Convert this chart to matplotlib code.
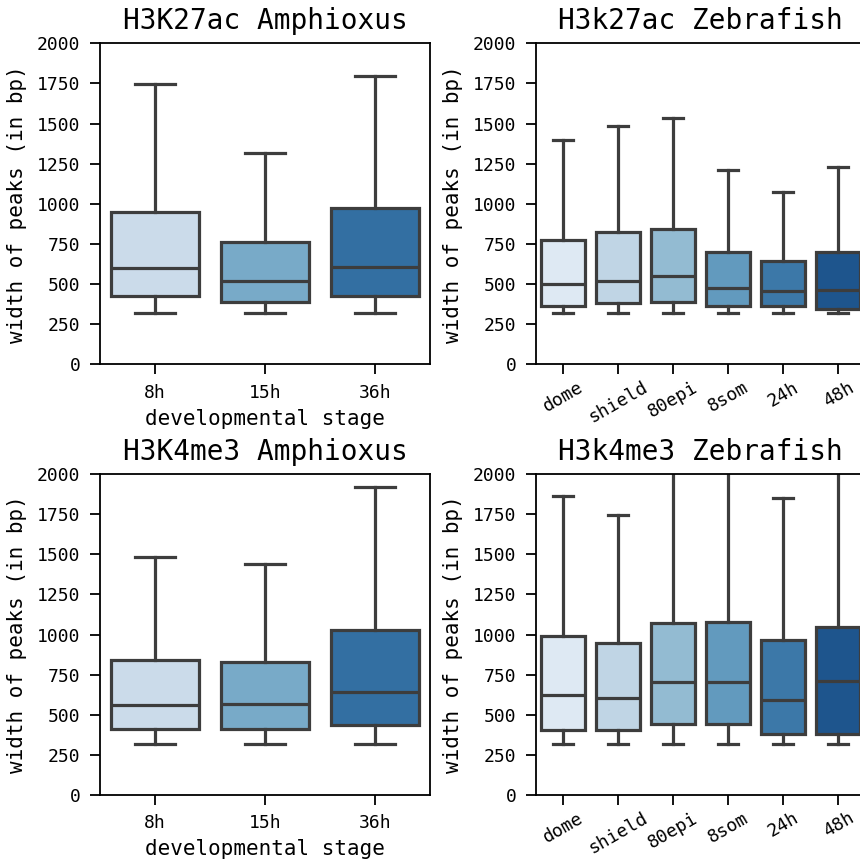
import matplotlib
matplotlib.use("Agg")
import matplotlib.pyplot as plt
import seaborn as sns

plt.rcParams['font.family'] = ['DejaVu Sans Mono']

amph_stages = ["8h", "15h", "36h"]
zf_stages = ["dome", "shield", "80epi", "8som", "24h", "48h"]

# H3K27ac Amphioxus: low whisker, Q1, median, Q3, high whisker
k27_amph_lo = [320, 320, 320]
k27_amph_q1 = [426, 390, 428]
k27_amph_med = [601, 519, 605]
k27_amph_q3 = [950, 760, 972]
k27_amph_hi = [1745, 1317, 1796]

# H3k27ac Zebrafish
k27_zf_lo = [320, 320, 320, 320, 320, 320]
k27_zf_q1 = [365, 382, 386, 365, 365, 347]
k27_zf_med = [502, 519, 548, 477, 457, 465]
k27_zf_q3 = [777, 822, 845, 702, 646, 702]
k27_zf_hi = [1398, 1485, 1532, 1211, 1071, 1229]

# H3K4me3 Amphioxus
k4_amph_lo = [320, 320, 320]
k4_amph_q1 = [411, 411, 436]
k4_amph_med = [561, 565, 640]
k4_amph_q3 = [841, 827, 1028]
k4_amph_hi = [1481, 1439, 1917]

# H3k4me3 Zebrafish
k4_zf_lo = [320, 320, 320, 320, 320, 320]
k4_zf_q1 = [407, 407, 444, 440, 382, 378]
k4_zf_med = [623, 602, 702, 702, 590, 710]
k4_zf_q3 = [989, 947, 1072, 1076, 968, 1047]
k4_zf_hi = [1861, 1747, 2300, 2300, 1848, 2300]

line_col = "#3d3d3d"

def make_stats(lo, q1, med, q3, hi):
    return [dict(whislo=a, q1=b, med=c, q3=d, whishi=e, fliers=[])
            for a, b, c, d, e in zip(lo, q1, med, q3, hi)]

def draw(ax, title, labels, stats, rot, xlabel):
    n = len(labels)
    cols = sns.color_palette("Blues", n, desat=0.75)
    lw = 2.3
    bp = ax.bxp(stats, positions=range(n), widths=0.8, patch_artist=True,
                showfliers=False, capwidths=0.36,
                boxprops=dict(linewidth=lw, edgecolor=line_col),
                whiskerprops=dict(linewidth=lw, color=line_col),
                capprops=dict(linewidth=lw, color=line_col),
                medianprops=dict(linewidth=lw, color=line_col))
    for patch, c in zip(bp['boxes'], cols):
        patch.set_facecolor(c)
    ax.set_xlim(-0.5, n - 0.5)
    ax.set_ylim(0, 2000)
    ax.set_yticks([0, 250, 500, 750, 1000, 1250, 1500, 1750, 2000])
    ax.set_xticks(range(n))
    if rot:
        ax.set_xticklabels(labels, rotation=30, ha='center')
    else:
        ax.set_xticklabels(labels)
    ax.set_title(title, fontsize=20, pad=10)
    ax.set_ylabel("width of peaks (in bp)", fontsize=15, labelpad=7)
    if xlabel:
        ax.set_xlabel("developmental stage", fontsize=15, labelpad=5)
    ax.tick_params(labelsize=13, length=7, width=1.3, pad=7)
    if rot:
        ax.tick_params(axis='x', pad=3)
    for s in ax.spines.values():
        s.set_linewidth(1.3)

fig = plt.figure(figsize=(8.6, 8.6), dpi=100)
W = 860.0
def rect(x0, x1, ytop, ybot):
    return [x0 / W, (W - ybot) / W, (x1 - x0) / W, (ybot - ytop) / W]

ax1 = fig.add_axes(rect(100, 430, 43.3, 364.3))
ax2 = fig.add_axes(rect(535.7, 865.7, 43.3, 364.3))
ax3 = fig.add_axes(rect(100, 430, 474, 795))
ax4 = fig.add_axes(rect(535.7, 865.7, 474, 795))

draw(ax1, "H3K27ac Amphioxus", amph_stages,
     make_stats(k27_amph_lo, k27_amph_q1, k27_amph_med, k27_amph_q3, k27_amph_hi), False, True)
draw(ax2, "H3k27ac Zebrafish", zf_stages,
     make_stats(k27_zf_lo, k27_zf_q1, k27_zf_med, k27_zf_q3, k27_zf_hi), True, False)
draw(ax3, "H3K4me3 Amphioxus", amph_stages,
     make_stats(k4_amph_lo, k4_amph_q1, k4_amph_med, k4_amph_q3, k4_amph_hi), False, True)
draw(ax4, "H3k4me3 Zebrafish", zf_stages,
     make_stats(k4_zf_lo, k4_zf_q1, k4_zf_med, k4_zf_q3, k4_zf_hi), True, False)

fig.savefig("out.png", dpi=100)
